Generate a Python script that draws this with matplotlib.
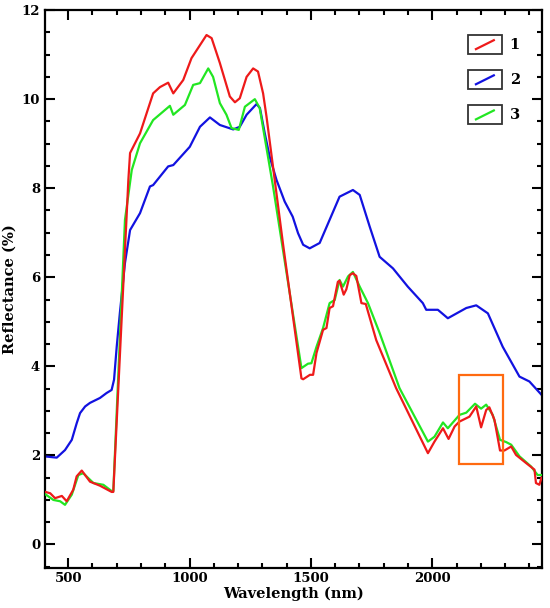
import matplotlib
matplotlib.use("Agg")
import matplotlib.pyplot as plt
from matplotlib.patches import Rectangle
from matplotlib.ticker import MultipleLocator

# ---- data ----
wl_1 = [400, 426, 446, 474, 494, 521, 535, 556, 590, 631, 679, 686,
        748, 755, 796, 850, 878, 912, 933, 974, 1008, 1070, 1091, 1125,
        1166, 1187, 1207, 1235, 1262, 1282, 1303, 1317, 1385, 1461, 1468,
        1496, 1509, 1523, 1550, 1564, 1577, 1591, 1611, 1618, 1635, 1646,
        1660, 1673, 1687, 1708, 1726, 1769, 1851, 1982, 2009, 2044, 2067,
        2092, 2112, 2153, 2181, 2201, 2222, 2235, 2256, 2279, 2297, 2325,
        2345, 2386, 2421, 2427, 2441, 2450]
refl_1 = [1.19, 1.15, 1.04, 1.09, 0.97, 1.23, 1.53, 1.66, 1.41, 1.32, 1.18, 1.18,
          8.19, 8.79, 9.23, 10.13, 10.27, 10.37, 10.13, 10.43, 10.92, 11.44, 11.37, 10.81,
          10.06, 9.93, 10.02, 10.50, 10.69, 10.62, 10.13, 9.61, 6.75, 3.73, 3.71,
          3.81, 3.81, 4.30, 4.82, 4.86, 5.31, 5.35, 5.90, 5.92, 5.61, 5.73,
          6.05, 6.09, 6.03, 5.42, 5.40, 4.59, 3.51, 2.05, 2.31, 2.61, 2.37,
          2.65, 2.76, 2.87, 3.10, 2.63, 3.02, 3.08, 2.80, 2.11, 2.11, 2.20,
          2.01, 1.83, 1.68, 1.38, 1.34, 1.50]

wl_2 = [400, 453, 487, 515, 535, 549, 570, 590, 631, 658, 679, 689, 700,
        713, 720, 734, 755, 796, 837, 850, 878, 912, 933, 1001, 1043,
        1084, 1125, 1180, 1207, 1235, 1276, 1290, 1310, 1330, 1358, 1392,
        1425, 1447, 1468, 1495, 1536, 1577, 1618, 1673, 1701, 1742, 1783,
        1838, 1899, 1961, 1975, 2023, 2064, 2140, 2181, 2229, 2290, 2359,
        2400, 2450]
refl_2 = [1.98, 1.95, 2.12, 2.35, 2.72, 2.95, 3.10, 3.18, 3.29, 3.40, 3.47, 3.70, 4.44,
          5.20, 5.57, 6.32, 7.06, 7.44, 8.04, 8.07, 8.26, 8.49, 8.52, 8.93, 9.38,
          9.59, 9.42, 9.32, 9.38, 9.65, 9.89, 9.80, 9.23, 8.71, 8.19, 7.70,
          7.36, 6.99, 6.73, 6.65, 6.77, 7.29, 7.81, 7.96, 7.85, 7.14, 6.46,
          6.20, 5.79, 5.42, 5.27, 5.27, 5.08, 5.31, 5.37, 5.19, 4.44, 3.77,
          3.66, 3.36]

wl_3 = [400, 439, 467, 487, 515, 542, 562, 604, 645, 679, 686, 734, 762,
        796, 850, 919, 933, 981, 1015, 1043, 1077, 1097, 1125, 1152, 1173,
        1203, 1228, 1269, 1289, 1344, 1461, 1488, 1502, 1523, 1550, 1577,
        1598, 1618, 1632, 1653, 1673, 1701, 1735, 1783, 1865, 1982, 2009,
        2044, 2064, 2112, 2140, 2176, 2201, 2222, 2249, 2279, 2304, 2325,
        2359, 2407, 2434, 2450]
refl_3 = [1.15, 1.00, 0.97, 0.89, 1.12, 1.56, 1.60, 1.38, 1.34, 1.20, 1.20, 7.29, 8.41,
          9.01, 9.53, 9.85, 9.65, 9.87, 10.32, 10.36, 10.69, 10.50, 9.91, 9.65, 9.35,
          9.31, 9.83, 10.00, 9.80, 8.04, 3.96, 4.06, 4.07, 4.44, 4.86, 5.42,
          5.49, 5.94, 5.79, 6.02, 6.12, 5.79, 5.42, 4.75, 3.51, 2.31, 2.42,
          2.74, 2.61, 2.91, 2.96, 3.16, 3.05, 3.14, 2.91, 2.35, 2.30, 2.24,
          1.98, 1.75, 1.56, 1.56]

series_labels = ["1", "2", "3"]
series_colors = ["#ee1a1a", "#1212e0", "#22e622"]

box_wl = [2110, 2290]
box_refl = [1.8, 3.8]

xticks = [500, 1000, 1500, 2000]
yticks = [0, 2, 4, 6, 8, 10, 12]

# ---- figure ----
plt.rcParams['font.family'] = ['DejaVu Serif']
plt.rcParams['font.weight'] = 'bold'

fig = plt.figure(figsize=(5.5, 6.08), dpi=100)
ax = fig.add_axes([0.082, 0.0664, 0.9035, 0.917])

ax.plot(wl_2, refl_2, color=series_colors[1], lw=1.6, zorder=2)
ax.plot(wl_3, refl_3, color=series_colors[2], lw=1.6, zorder=3)
ax.plot(wl_1, refl_1, color=series_colors[0], lw=1.6, zorder=4)

ax.add_patch(Rectangle((box_wl[0], box_refl[0]), box_wl[1] - box_wl[0],
                       box_refl[1] - box_refl[0], fill=False,
                       edgecolor="#ff6a10", lw=1.6, zorder=5))

ax.set_xlim(405, 2452)
ax.set_ylim(-0.52, 12)
ax.set_xticks(xticks)
ax.set_yticks(yticks)
ax.xaxis.set_minor_locator(MultipleLocator(100))
ax.yaxis.set_minor_locator(MultipleLocator(0.5))
ax.tick_params(which='both', direction='in', top=True, right=True,
               width=1.5, labelsize=9.5)
ax.tick_params(which='major', length=7)
ax.tick_params(which='minor', length=3.5)
for s in ax.spines.values():
    s.set_linewidth(1.6)
for lab in ax.get_xticklabels() + ax.get_yticklabels():
    lab.set_fontweight('bold')

ax.set_xlabel("Wavelength (nm)", fontsize=10.5, fontweight='bold', labelpad=1)
ax.set_ylabel("Reflectance (%)", fontsize=10.5, fontweight='bold', labelpad=4)

# ---- legend (boxed handles) ----
box_y = [0.921, 0.858, 0.795]
for lab, c, y0 in zip(series_labels, series_colors, box_y):
    ax.add_patch(Rectangle((0.851, y0), 0.069, 0.034, transform=ax.transAxes,
                           fill=False, edgecolor="#333333", lw=1.3, zorder=6))
    ax.plot([0.867, 0.903], [y0 + 0.009, y0 + 0.025], transform=ax.transAxes,
            color=c, lw=1.6, zorder=7)
    ax.text(0.935, y0 + 0.017, lab, transform=ax.transAxes, ha='left',
            va='center', fontsize=10.5, fontweight='bold')

fig.savefig("out.png", dpi=100)
